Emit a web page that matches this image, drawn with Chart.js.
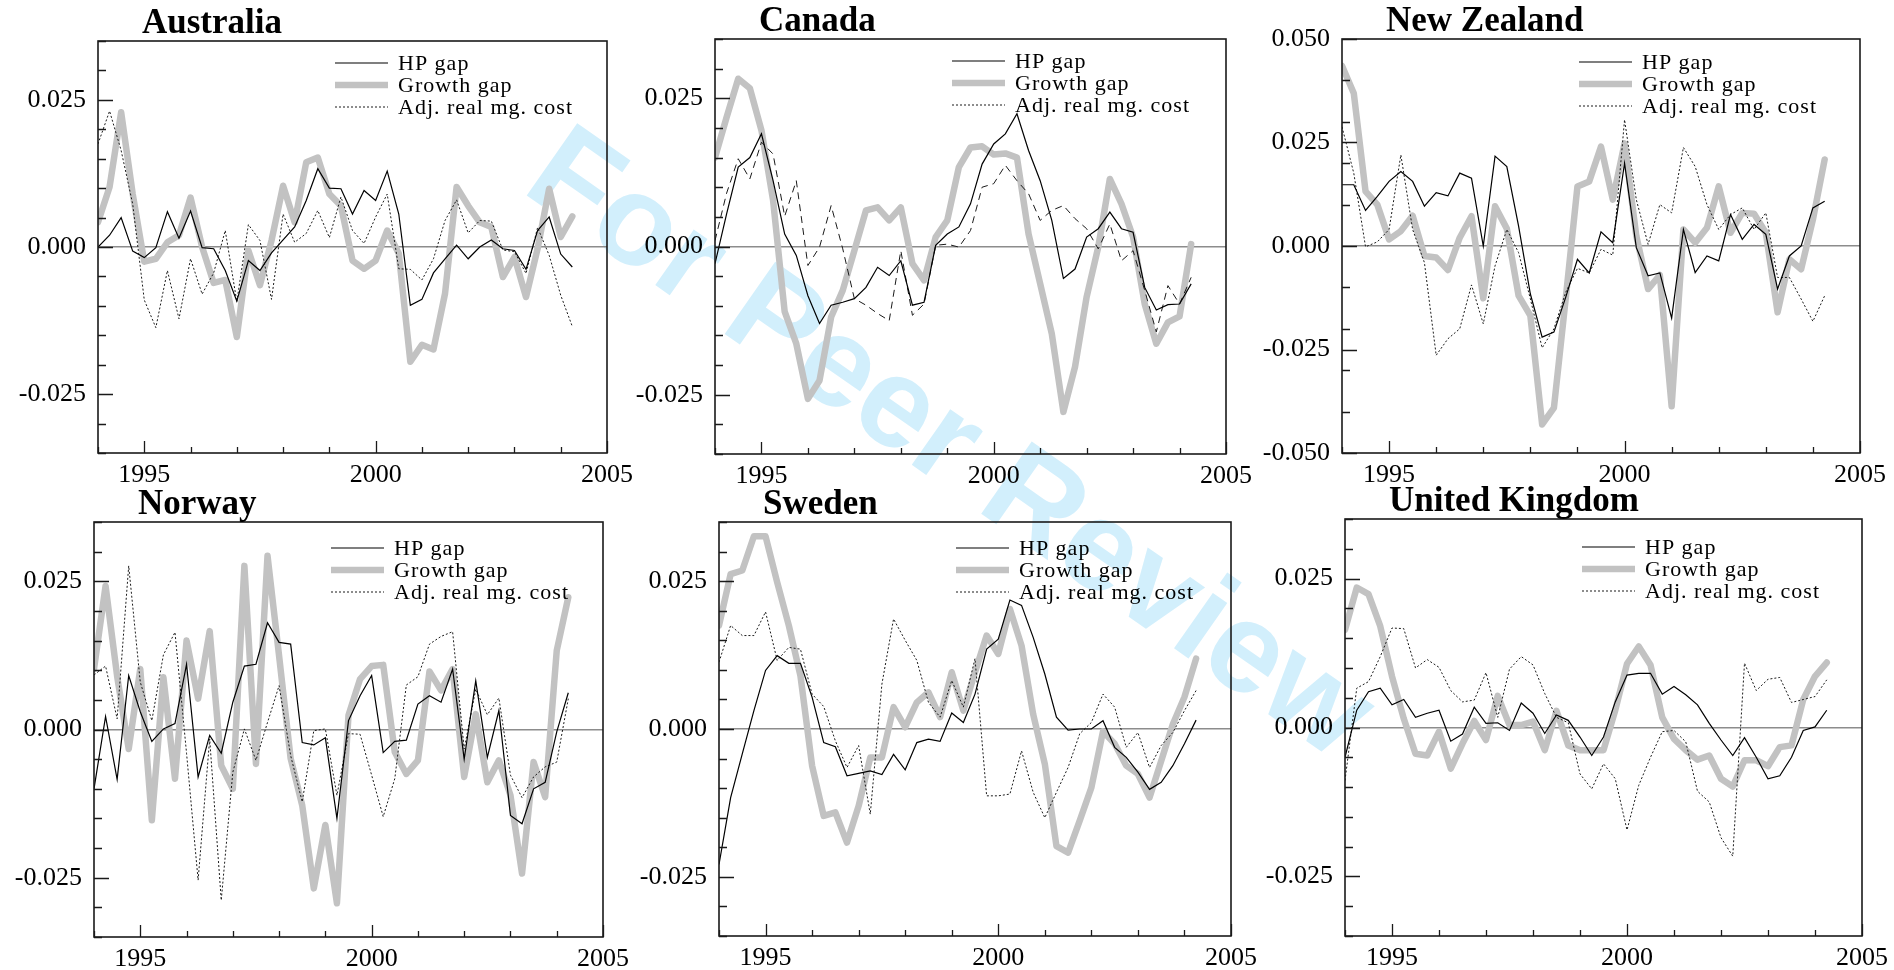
<!DOCTYPE html>
<html>
<head>
<meta charset="utf-8">
<script src="https://cdn.jsdelivr.net/npm/chart.js@4.4.1/dist/chart.umd.min.js"></script>
<style>
  html, body { margin: 0; padding: 0; background: #fff; width: 1894px; height: 970px; overflow: hidden; }
  canvas { position: absolute; }
  #wm {
    position: absolute; left: 953px; top: 440px; white-space: nowrap;
    transform: translate(-50%, -50%) rotate(35deg);
    font: bold 128px "Liberation Sans", Arial, sans-serif; line-height: 1;
    color: #d2effc;
  }
</style>
</head>
<body>
<div id="wm">For Peer Review</div>
<script>
"use strict";
/* Output-gap measures, six small-open economies, quarterly 1994Q1-2004Q2. */

const quarters = [
  "1994Q1","1994Q2","1994Q3","1994Q4","1995Q1","1995Q2","1995Q3","1995Q4",
  "1996Q1","1996Q2","1996Q3","1996Q4","1997Q1","1997Q2","1997Q3","1997Q4",
  "1998Q1","1998Q2","1998Q3","1998Q4","1999Q1","1999Q2","1999Q3","1999Q4",
  "2000Q1","2000Q2","2000Q3","2000Q4","2001Q1","2001Q2","2001Q3","2001Q4",
  "2002Q1","2002Q2","2002Q3","2002Q4","2003Q1","2003Q2","2003Q3","2003Q4",
  "2004Q1","2004Q2"];

const seriesNames = ["HP gap", "Growth gap", "Adj. real mg. cost"];

const xTicks = [1994,1995,1996,1997,1998,1999,2000,2001,2002,2003,2004,2005];
const xLabels = [1995, 2000, 2005];
const yTicksNarrow = [-0.035,-0.03,-0.025,-0.02,-0.015,-0.01,-0.005,0,0.005,0.01,0.015,0.02,0.025,0.03,0.035];
const yLabelsNarrow = [-0.025, 0, 0.025];
const yTicksWide = [-0.05,-0.04,-0.03,-0.025,-0.02,-0.01,0,0.01,0.02,0.025,0.03,0.04,0.05];
const yLabelsWide = [-0.05, -0.025, 0, 0.025, 0.05];

const ausHP = [0.0000,0.0020,0.0050,-0.0007,-0.0018,-0.0001,0.0060,0.0015,0.0061,-0.0001,-0.0003,-0.0040,-0.0092,-0.0023,-0.0040,-0.0010,0.0012,0.0034,0.0079,0.0133,0.0100,0.0099,0.0056,0.0096,0.0079,0.0129,0.0056,-0.0099,-0.0089,-0.0044,-0.0020,0.0003,-0.0020,0.0000,0.0012,-0.0003,-0.0006,-0.0038,0.0028,0.0051,-0.0012,-0.0034];
const ausGrowth = [0.0042,0.0102,0.0229,0.0090,-0.0025,-0.0020,0.0008,0.0020,0.0084,0.0000,-0.0061,-0.0056,-0.0153,-0.0006,-0.0065,0.0011,0.0104,0.0042,0.0144,0.0152,0.0090,0.0070,-0.0023,-0.0037,-0.0023,0.0028,-0.0011,-0.0195,-0.0166,-0.0174,-0.0079,0.0102,0.0070,0.0042,0.0034,-0.0051,-0.0017,-0.0085,-0.0003,0.0099,0.0017,0.0052];
const ausAdj = [0.0175,0.0231,0.0164,0.0073,-0.0090,-0.0137,-0.0040,-0.0122,-0.0020,-0.0080,-0.0044,0.0028,-0.0093,0.0038,0.0011,-0.0089,0.0056,0.0008,0.0023,0.0062,0.0016,0.0085,0.0028,0.0006,0.0051,0.0090,-0.0037,-0.0038,-0.0056,-0.0020,0.0045,0.0080,0.0024,0.0045,0.0044,-0.0005,-0.0008,-0.0045,0.0033,-0.0014,-0.0082,-0.0135];

const canHP = [-0.0029,0.0055,0.0134,0.0150,0.0190,0.0111,0.0021,-0.0015,-0.0083,-0.0130,-0.0099,-0.0094,-0.0088,-0.0069,-0.0035,-0.0049,-0.0024,-0.0099,-0.0094,0.0002,0.0021,0.0033,0.0072,0.0139,0.0173,0.0190,0.0224,0.0162,0.0111,0.0044,-0.0054,-0.0038,0.0016,0.0030,0.0058,0.0030,0.0024,-0.0069,-0.0107,-0.0098,-0.0097,-0.0063];
const canGrowth = [0.0150,0.0218,0.0283,0.0267,0.0196,0.0078,-0.0110,-0.0164,-0.0257,-0.0226,-0.0119,-0.0074,-0.0007,0.0061,0.0066,0.0044,0.0066,-0.0029,-0.0057,0.0016,0.0044,0.0134,0.0167,0.0169,0.0155,0.0157,0.0150,0.0021,-0.0063,-0.0147,-0.0279,-0.0203,-0.0085,-0.0001,0.0114,0.0072,0.0016,-0.0097,-0.0164,-0.0128,-0.0118,0.0004];
const canAdj = [0.0010,0.0090,0.0148,0.0114,0.0176,0.0156,0.0051,0.0111,-0.0032,-0.0001,0.0069,-0.0004,-0.0088,-0.0099,-0.0113,-0.0125,-0.0007,-0.0116,-0.0097,0.0002,0.0004,-0.0001,0.0027,0.0100,0.0106,0.0137,0.0111,0.0089,0.0044,0.0061,0.0069,0.0047,0.0030,-0.0004,0.0038,-0.0024,-0.0007,-0.0074,-0.0144,-0.0066,-0.0097,-0.0052];

const nzlHP = [0.0148,0.0148,0.0086,0.0120,0.0156,0.0180,0.0156,0.0096,0.0129,0.0121,0.0176,0.0164,0.0000,0.0217,0.0192,0.0048,-0.0116,-0.0220,-0.0208,-0.0124,-0.0032,-0.0065,0.0034,0.0008,0.0200,-0.0004,-0.0072,-0.0065,-0.0174,0.0040,-0.0064,-0.0024,-0.0036,0.0076,0.0016,0.0052,0.0028,-0.0104,-0.0024,0.0000,0.0092,0.0108];
const nzlGrowth = [0.0435,0.0369,0.0132,0.0100,0.0016,0.0036,0.0073,-0.0024,-0.0028,-0.0058,0.0020,0.0072,-0.0126,0.0096,0.0042,-0.0120,-0.0168,-0.0431,-0.0391,-0.0128,0.0144,0.0156,0.0240,0.0112,0.0248,0.0024,-0.0104,-0.0070,-0.0387,0.0040,0.0008,0.0044,0.0144,0.0032,0.0080,0.0078,0.0032,-0.0160,-0.0032,-0.0056,0.0064,0.0209];
const nzlAdj = [0.0288,0.0176,-0.0002,0.0010,0.0040,0.0220,0.0040,-0.0040,-0.0264,-0.0224,-0.0200,-0.0094,-0.0188,-0.0048,0.0040,-0.0016,-0.0128,-0.0246,-0.0200,-0.0112,-0.0054,-0.0065,-0.0008,-0.0022,0.0305,0.0112,0.0004,0.0100,0.0080,0.0238,0.0192,0.0100,0.0040,0.0076,0.0092,0.0040,0.0080,-0.0076,-0.0076,-0.0128,-0.0182,-0.0120];

const norHP = [-0.0100,0.0022,-0.0084,0.0091,0.0030,-0.0020,0.0001,0.0010,0.0110,-0.0080,-0.0010,-0.0040,0.0046,0.0107,0.0110,0.0180,0.0147,0.0144,-0.0022,-0.0026,-0.0014,-0.0150,0.0015,0.0057,0.0091,-0.0039,-0.0020,-0.0018,0.0043,0.0057,0.0046,0.0102,-0.0050,0.0082,-0.0047,0.0032,-0.0145,-0.0159,-0.0100,-0.0089,-0.0004,0.0062];
const norGrowth = [0.0102,0.0242,0.0090,-0.0033,0.0102,-0.0153,0.0088,-0.0083,0.0150,0.0052,0.0166,-0.0061,-0.0100,0.0276,-0.0058,0.0293,0.0124,-0.0049,-0.0128,-0.0268,-0.0161,-0.0293,0.0024,0.0085,0.0107,0.0109,-0.0038,-0.0075,-0.0052,0.0098,0.0066,0.0102,-0.0080,0.0026,-0.0089,-0.0052,-0.0111,-0.0243,-0.0055,-0.0114,0.0133,0.0223];
const norAdj = [0.0092,0.0107,0.0018,0.0276,0.0080,0.0015,0.0126,0.0164,-0.0040,-0.0254,-0.0016,-0.0288,-0.0072,0.0001,-0.0052,0.0012,0.0074,-0.0044,-0.0122,-0.0002,0.0001,-0.0111,-0.0007,-0.0008,-0.0077,-0.0147,-0.0083,0.0075,0.0089,0.0144,0.0157,0.0165,-0.0033,0.0068,0.0025,0.0053,-0.0077,-0.0115,-0.0080,-0.0063,-0.0055,0.0052];

const sweHP = [-0.0229,-0.0116,-0.0042,0.0031,0.0099,0.0124,0.0111,0.0111,0.0054,-0.0023,-0.0030,-0.0079,-0.0075,-0.0071,-0.0077,-0.0043,-0.0069,-0.0023,-0.0017,-0.0021,0.0027,0.0011,0.0059,0.0135,0.0152,0.0218,0.0209,0.0155,0.0093,0.0020,-0.0002,0.0000,0.0000,0.0014,-0.0031,-0.0048,-0.0073,-0.0102,-0.0090,-0.0062,-0.0025,0.0015];
const sweGrowth = [0.0175,0.0262,0.0268,0.0326,0.0326,0.0248,0.0175,0.0090,-0.0062,-0.0147,-0.0141,-0.0192,-0.0130,-0.0048,-0.0048,0.0037,0.0003,0.0045,0.0062,0.0020,0.0096,0.0031,0.0096,0.0158,0.0127,0.0203,0.0141,0.0025,-0.0059,-0.0198,-0.0209,-0.0155,-0.0099,-0.0004,-0.0025,-0.0062,-0.0076,-0.0116,-0.0054,0.0008,0.0054,0.0119];
const sweAdj = [0.0113,0.0175,0.0158,0.0158,0.0198,0.0116,0.0138,0.0135,0.0059,0.0038,-0.0020,-0.0065,-0.0028,-0.0144,0.0076,0.0186,0.0150,0.0116,0.0045,0.0020,0.0082,0.0037,0.0119,-0.0113,-0.0113,-0.0110,-0.0037,-0.0107,-0.0150,-0.0107,-0.0065,-0.0008,0.0011,0.0059,0.0037,-0.0031,-0.0006,-0.0065,-0.0028,-0.0006,0.0031,0.0065];

const gbrHP = [-0.0050,0.0029,0.0060,0.0066,0.0038,0.0047,0.0017,0.0024,0.0029,-0.0023,-0.0011,0.0034,0.0007,0.0008,-0.0005,0.0041,0.0024,-0.0010,0.0021,0.0012,-0.0016,-0.0047,-0.0016,0.0043,0.0088,0.0091,0.0091,0.0056,0.0069,0.0055,0.0038,0.0007,-0.0021,-0.0047,-0.0017,-0.0050,-0.0086,-0.0081,-0.0050,-0.0005,0.0001,0.0029];
const gbrGrowth = [0.0164,0.0235,0.0224,0.0170,0.0086,0.0015,-0.0044,-0.0047,-0.0007,-0.0069,-0.0027,0.0011,-0.0021,0.0053,0.0004,0.0004,0.0010,-0.0038,0.0028,-0.0030,-0.0038,-0.0038,-0.0038,0.0029,0.0107,0.0136,0.0105,0.0017,-0.0019,-0.0038,-0.0054,-0.0047,-0.0086,-0.0099,-0.0055,-0.0055,-0.0065,-0.0033,-0.0030,0.0047,0.0086,0.0109];
const gbrAdj = [-0.0089,0.0066,0.0077,0.0119,0.0167,0.0166,0.0100,0.0114,0.0101,0.0062,0.0043,0.0046,0.0092,0.0017,0.0098,0.0119,0.0105,0.0057,0.0017,0.0008,-0.0078,-0.0103,-0.0061,-0.0086,-0.0172,-0.0097,-0.0050,-0.0007,-0.0005,-0.0024,-0.0107,-0.0125,-0.0185,-0.0216,0.0108,0.0062,0.0081,0.0084,0.0042,0.0047,0.0052,0.0080];

/* layout: plot box [left, top, right, bottom] in page px */
const panels = [
  { title: "Australia",      hp: ausHP, growth: ausGrowth, adj: ausAdj, box: [98, 41, 607, 453],   wide: false, legTop: 22 },
  { title: "Canada",         hp: canHP, growth: canGrowth, adj: canAdj, box: [715, 39, 1226, 454], wide: false, legTop: 22, dashed: true },
  { title: "New Zealand",    hp: nzlHP, growth: nzlGrowth, adj: nzlAdj, box: [1342, 39, 1860, 453], wide: true, legTop: 23 },
  { title: "Norway",         hp: norHP, growth: norGrowth, adj: norAdj, box: [94, 522, 603, 937],  wide: false, legTop: 26 },
  { title: "Sweden",         hp: sweHP, growth: sweGrowth, adj: sweAdj, box: [719, 522, 1231, 936], wide: false, legTop: 26 },
  { title: "United Kingdom", hp: gbrHP, growth: gbrGrowth, adj: gbrAdj, box: [1345, 519, 1862, 936], wide: false, legTop: 28 },
];

const YW = 96, TP = 44, XH = 44, RP = 34;   // y-axis width, top pad, x-axis height, right pad
const SERIF = "'Liberation Serif', 'Times New Roman', serif";
Chart.defaults.font.family = SERIF;
Chart.defaults.color = "#000";

const yearOf = (q) => +q.slice(0, 4) + (+q[5] - 1) / 4;
const pts = (arr) => quarters.map((q, i) => ({ x: yearOf(q), y: arr[i] }));
const fmt = (v) => v.toFixed(3);

/* box, inward ticks, title and in-plot legend */
const framePlugin = {
  id: "frame",
  afterDraw(chart, args, opts) {
    const { ctx, chartArea: a, scales: { x, y } } = chart;
    ctx.save();
    ctx.strokeStyle = "#1a1a1a";
    ctx.lineWidth = 1.6;
    ctx.strokeRect(a.left, a.top, a.right - a.left, a.bottom - a.top);
    ctx.lineWidth = 1.3;
    ctx.beginPath();
    y.ticks.forEach((t) => {
      const py = Math.round(y.getPixelForValue(t.value)) + 0.5;
      const len = t.label ? 15 : 8;
      ctx.moveTo(a.left, py); ctx.lineTo(a.left + len, py);
    });
    x.ticks.forEach((t) => {
      const px = Math.round(x.getPixelForValue(t.value)) + 0.5;
      const len = t.label ? 12 : 6;
      ctx.moveTo(px, a.bottom); ctx.lineTo(px, a.bottom - len);
    });
    ctx.stroke();

    ctx.fillStyle = "#000";
    ctx.textBaseline = "alphabetic";
    ctx.font = "bold 35px " + SERIF;
    ctx.fillText(opts.title, a.left + 44, a.top - 8);

    ctx.font = "22px " + SERIF;
    if ("letterSpacing" in ctx) ctx.letterSpacing = "1px";
    ctx.textBaseline = "middle";
    chart.data.datasets.forEach((ds, k) => {
      const ly = a.top + opts.legTop + k * 22;
      ctx.save();
      ctx.strokeStyle = ds.borderColor;
      ctx.lineWidth = ds.borderWidth;
      ctx.setLineDash(ds.legendDash || ds.borderDash || []);
      ctx.beginPath();
      ctx.moveTo(a.left + 237, ly); ctx.lineTo(a.left + 290, ly);
      ctx.stroke();
      ctx.restore();
      ctx.fillText(ds.label, a.left + 300, ly + 1);
    });
    ctx.restore();
  }
};

panels.forEach((p) => {
  const [L, T, R, B] = p.box;
  const cv = document.createElement("canvas");
  cv.width = YW + (R - L) + RP;
  cv.height = TP + (B - T) + XH;
  cv.style.left = (L - YW) + "px";
  cv.style.top = (T - TP) + "px";
  document.body.appendChild(cv);

  const yTicks = p.wide ? yTicksWide : yTicksNarrow;
  const yLabels = p.wide ? yLabelsWide : yLabelsNarrow;
  const yMax = p.wide ? 0.05 : 0.035;

  new Chart(cv, {
    type: "line",
    data: {
      datasets: [
        { label: seriesNames[0], data: pts(p.hp), borderColor: "#000", borderWidth: 1.2, order: 0 },
        { label: seriesNames[1], data: pts(p.growth), borderColor: "#c2c2c2", borderWidth: 6.5, order: 2,
          borderJoinStyle: "round", borderCapStyle: "round" },
        { label: seriesNames[2], data: pts(p.adj), borderColor: "#1a1a1a", borderWidth: 1,
          borderDash: p.dashed ? [7, 5] : [2, 2], legendDash: [2, 2], order: 1 },
      ],
    },
    options: {
      responsive: false, animation: false, devicePixelRatio: 1,
      layout: { padding: { top: TP, right: RP, left: 0, bottom: 0 } },
      elements: { point: { radius: 0 }, line: { tension: 0, fill: false } },
      plugins: { legend: { display: false }, tooltip: { enabled: false }, frame: { title: p.title, legTop: p.legTop } },
      scales: {
        x: {
          type: "linear", min: 1994, max: 2005,
          afterBuildTicks: (s) => { s.ticks = xTicks.map((v) => ({ value: v })); },
          afterFit: (s) => { s.height = XH; },
          grid: { display: false, drawTicks: false },
          border: { display: false },
          ticks: { autoSkip: false, maxRotation: 0, padding: 7, font: { size: 26 },
                   callback: (v) => (xLabels.includes(v) ? String(v) : "") },
        },
        y: {
          type: "linear", min: -yMax, max: yMax,
          afterBuildTicks: (s) => { s.ticks = yTicks.map((v) => ({ value: v })); },
          afterFit: (s) => { s.width = YW; },
          grid: { drawTicks: false, lineWidth: 1.5,
                  color: (c) => (c.tick && c.tick.value === 0 ? "#8c8c8c" : "rgba(0,0,0,0)") },
          border: { display: false },
          ticks: { autoSkip: false, padding: 12, font: { size: 26 },
                   callback: (v) => (yLabels.includes(v) ? fmt(v) : "") },
        },
      },
    },
    plugins: [framePlugin],
  });
});
</script>
</body>
</html>
